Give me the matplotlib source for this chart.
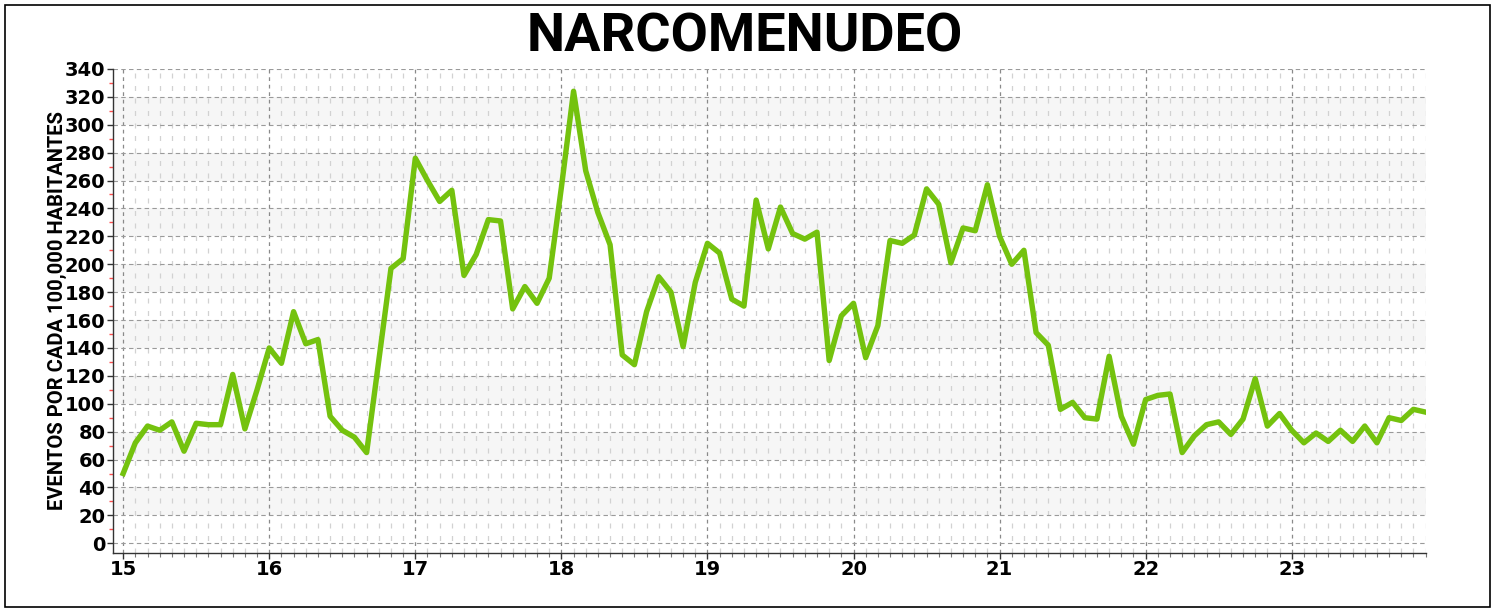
import numpy as np
import matplotlib.pyplot as plt
from matplotlib.patches import Rectangle
from matplotlib.ticker import MultipleLocator

# Monthly rate per 100,000 inhabitants, Jan 2015 .. Dec 2023
years = [15, 16, 17, 18, 19, 20, 21, 22, 23]
rate_2015 = [50, 72, 84, 81, 87, 66, 86, 85, 85, 121, 82, 110]
rate_2016 = [140, 129, 166, 143, 146, 91, 81, 76, 65, 131, 197, 204]
rate_2017 = [276, 260, 245, 253, 192, 207, 232, 231, 168, 184, 172, 190]
rate_2018 = [255, 324, 267, 237, 214, 135, 128, 166, 191, 180, 141, 187]
rate_2019 = [215, 208, 175, 170, 246, 211, 241, 222, 218, 223, 131, 163]
rate_2020 = [172, 133, 156, 217, 215, 221, 254, 243, 201, 226, 224, 257]
rate_2021 = [220, 200, 210, 151, 142, 96, 101, 90, 89, 134, 91, 71]
rate_2022 = [103, 106, 107, 65, 77, 85, 87, 78, 89, 118, 84, 93]
rate_2023 = [81, 72, 79, 73, 81, 73, 84, 72, 90, 88, 96, 94]

rates = (rate_2015 + rate_2016 + rate_2017 + rate_2018 + rate_2019
         + rate_2020 + rate_2021 + rate_2022 + rate_2023)
# each point sits at year + month/12
t = np.array([y + m / 12 for y in years for m in range(12)])

fig = plt.figure(figsize=(14.98, 6.10), dpi=100)
ax = fig.add_axes([0.0754, 0.0934, 0.8766, 0.7936])

# alternating light bands
for lo in range(20, 340, 40):
    ax.axhspan(lo, lo + 20, color="#f6f6f6", zorder=0, lw=0)

ax.plot(t, rates, color="#74c20e", lw=3.9, zorder=3)

ax.set_xlim(14.93, 23.92)
ax.set_ylim(-7, 340)

ax.yaxis.set_major_locator(MultipleLocator(20))
ax.yaxis.set_minor_locator(MultipleLocator(10))
ax.set_xticks(years)
ax.set_xticks(t, minor=True)

ax.grid(which="major", axis="y", color="#9a9a9a", ls=(0, (4, 3)), lw=0.8, zorder=1)
ax.grid(which="major", axis="x", color="#8a8a8a", ls=(0, (3, 3)), lw=0.9, zorder=1)
ax.grid(which="minor", axis="x", color="#d2d2d2", ls=(0, (4, 6)), lw=0.9, zorder=1)

for s in ["top", "right"]:
    ax.spines[s].set_visible(False)
for s in ["left", "bottom"]:
    ax.spines[s].set_color("#333333")
    ax.spines[s].set_linewidth(1.0)

ax.tick_params(axis="y", which="major", length=4.5, width=1, color="#333333", pad=1)
ax.tick_params(axis="y", which="minor", length=3, width=1, color="#ff5050")
ax.tick_params(axis="x", which="major", length=4, width=1, color="#333333", pad=1)
ax.tick_params(axis="x", which="minor", length=3, width=0.8, color="#777777")

for lab in ax.get_yticklabels():
    lab.set_fontweight("bold")
    lab.set_fontsize(14)
for lab in ax.get_xticklabels():
    lab.set_fontweight("bold")
    lab.set_fontsize(14)

ax.set_ylabel("EVENTOS POR CADA 100,000 HABITANTES", fontsize=14.5,
              fontweight="bold", family="Roboto", labelpad=-1.5)

fig.text(0.497, 0.915, "NARCOMENUDEO", ha="center", va="baseline",
         fontsize=39, fontweight="bold", family="Roboto")

fig.patches.append(Rectangle((5 / 1498, 3 / 610), 1485 / 1498, 602 / 610,
                             transform=fig.transFigure, fill=False,
                             edgecolor="black", lw=1.2))

fig.savefig("out.png", dpi=100)
